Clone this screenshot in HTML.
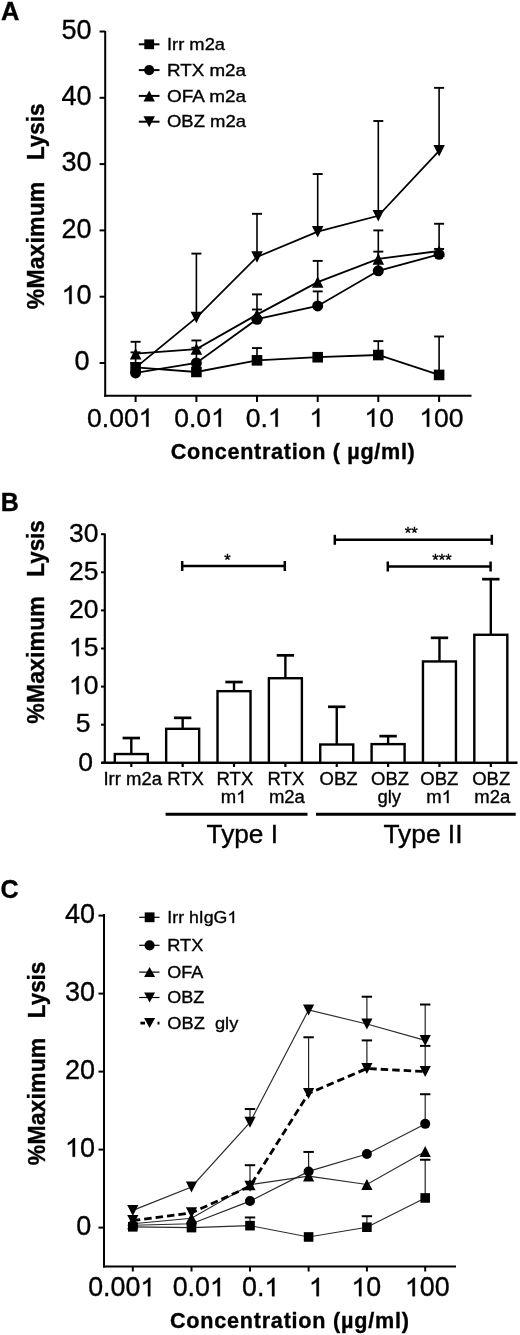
<!DOCTYPE html>
<html><head><meta charset="utf-8"><style>
html,body{margin:0;padding:0;background:#fff;}
svg{display:block;font-family:"Liberation Sans", sans-serif;filter:blur(0.4px);}
text{stroke:#000;stroke-width:0.35px;}
.h1{fill:none;stroke:none;}
</style></head><body>
<svg width="520" height="1335" viewBox="0 0 520 1335" fill="#000">
<rect width="520" height="1335" fill="#fff"/>
<text x="1.0" y="19.8" font-size="25.5" text-anchor="start" font-weight="bold" >A</text>
<line x1="105.20" y1="31.00" x2="105.20" y2="396.80" stroke="#000" stroke-width="2" />
<line x1="104.20" y1="395.80" x2="471.50" y2="395.80" stroke="#000" stroke-width="2" />
<line x1="99.60" y1="31.50" x2="105.20" y2="31.50" stroke="#000" stroke-width="2" />
<text x="91.6" y="38.85" font-size="27" text-anchor="end" font-weight="normal" >50</text>
<line x1="99.60" y1="97.80" x2="105.20" y2="97.80" stroke="#000" stroke-width="2" />
<text x="91.6" y="105.15" font-size="27" text-anchor="end" font-weight="normal" >40</text>
<line x1="99.60" y1="164.10" x2="105.20" y2="164.10" stroke="#000" stroke-width="2" />
<text x="91.6" y="171.45" font-size="27" text-anchor="end" font-weight="normal" >30</text>
<line x1="99.60" y1="230.40" x2="105.20" y2="230.40" stroke="#000" stroke-width="2" />
<text x="91.6" y="237.75" font-size="27" text-anchor="end" font-weight="normal" >20</text>
<line x1="99.60" y1="296.70" x2="105.20" y2="296.70" stroke="#000" stroke-width="2" />
<text x="91.6" y="304.05" font-size="27" text-anchor="end" font-weight="normal" ><tspan class="h1">1</tspan>0</text>
<line x1="99.60" y1="363.00" x2="105.20" y2="363.00" stroke="#000" stroke-width="2" />
<text x="89.5" y="370.35" font-size="27" text-anchor="end" font-weight="normal" >0</text>
<line x1="135.60" y1="395.80" x2="135.60" y2="402.00" stroke="#000" stroke-width="2" />
<line x1="196.40" y1="395.80" x2="196.40" y2="402.00" stroke="#000" stroke-width="2" />
<line x1="257.00" y1="395.80" x2="257.00" y2="402.00" stroke="#000" stroke-width="2" />
<line x1="317.70" y1="395.80" x2="317.70" y2="402.00" stroke="#000" stroke-width="2" />
<line x1="378.30" y1="395.80" x2="378.30" y2="402.00" stroke="#000" stroke-width="2" />
<line x1="439.10" y1="395.80" x2="439.10" y2="402.00" stroke="#000" stroke-width="2" />
<text x="87.07" y="426.7" font-size="26.5" text-anchor="start" font-weight="normal" >0.00<tspan class="h1">1</tspan></text>
<text x="174.17" y="426.7" font-size="26.5" text-anchor="start" font-weight="normal" >0.0<tspan class="h1">1</tspan></text>
<text x="245.77" y="426.7" font-size="26.5" text-anchor="start" font-weight="normal" >0.<tspan class="h1">1</tspan></text>
<text x="309.41" y="426.7" font-size="26.5" text-anchor="start" font-weight="normal" ><tspan class="h1">1</tspan></text>
<text x="364.41" y="426.7" font-size="26.5" text-anchor="start" font-weight="normal" ><tspan class="h1">1</tspan>0</text>
<text x="419.31" y="426.7" font-size="26.5" text-anchor="start" font-weight="normal" ><tspan class="h1">1</tspan>00</text>
<text x="170.8" y="458.7" font-size="21.6" text-anchor="start" font-weight="bold" textLength="244" lengthAdjust="spacing">Concentration ( µg/ml)</text>
<text transform="translate(43.5,309.2) rotate(-90)" font-size="23" font-weight="bold" textLength="127.5">%Maximum</text>
<text transform="translate(43.5,160.0) rotate(-90)" font-size="23" font-weight="bold" textLength="56.5" lengthAdjust="spacingAndGlyphs">Lysis</text>
<polyline points="135.6,367.3 196.4,372.0 257.0,360.3 317.7,357.2 378.3,355.0 439.1,374.9" fill="none" stroke="#000" stroke-width="1.8"/>
<line x1="257.00" y1="360.35" x2="257.00" y2="348.08" stroke="#000" stroke-width="1.6" />
<line x1="252.00" y1="348.08" x2="262.00" y2="348.08" stroke="#000" stroke-width="1.9" />
<line x1="378.30" y1="355.04" x2="378.30" y2="341.12" stroke="#000" stroke-width="1.6" />
<line x1="373.30" y1="341.12" x2="383.30" y2="341.12" stroke="#000" stroke-width="1.9" />
<line x1="439.10" y1="374.93" x2="439.10" y2="336.48" stroke="#000" stroke-width="1.6" />
<line x1="434.10" y1="336.48" x2="444.10" y2="336.48" stroke="#000" stroke-width="1.9" />
<polyline points="135.6,372.9 196.4,363.0 257.0,319.2 317.7,306.0 378.3,270.8 439.1,254.3" fill="none" stroke="#000" stroke-width="1.8"/>
<line x1="196.40" y1="363.00" x2="196.40" y2="347.75" stroke="#000" stroke-width="1.6" />
<line x1="191.40" y1="347.75" x2="201.40" y2="347.75" stroke="#000" stroke-width="1.9" />
<line x1="257.00" y1="319.24" x2="257.00" y2="309.50" stroke="#000" stroke-width="1.6" />
<line x1="252.00" y1="309.50" x2="262.00" y2="309.50" stroke="#000" stroke-width="1.9" />
<line x1="317.70" y1="305.98" x2="317.70" y2="291.40" stroke="#000" stroke-width="1.6" />
<line x1="312.70" y1="291.40" x2="322.70" y2="291.40" stroke="#000" stroke-width="1.9" />
<line x1="378.30" y1="270.84" x2="378.30" y2="251.62" stroke="#000" stroke-width="1.6" />
<line x1="373.30" y1="251.62" x2="383.30" y2="251.62" stroke="#000" stroke-width="1.9" />
<line x1="439.10" y1="254.27" x2="439.10" y2="248.96" stroke="#000" stroke-width="1.6" />
<line x1="434.10" y1="248.96" x2="444.10" y2="248.96" stroke="#000" stroke-width="1.9" />
<polyline points="135.6,353.7 196.4,349.1 257.0,314.6 317.7,282.1 378.3,258.9 439.1,251.0" fill="none" stroke="#000" stroke-width="1.8"/>
<line x1="135.60" y1="353.72" x2="135.60" y2="341.78" stroke="#000" stroke-width="1.6" />
<line x1="130.60" y1="341.78" x2="140.60" y2="341.78" stroke="#000" stroke-width="1.9" />
<line x1="196.40" y1="349.08" x2="196.40" y2="340.46" stroke="#000" stroke-width="1.6" />
<line x1="191.40" y1="340.46" x2="201.40" y2="340.46" stroke="#000" stroke-width="1.9" />
<line x1="257.00" y1="314.60" x2="257.00" y2="294.38" stroke="#000" stroke-width="1.6" />
<line x1="252.00" y1="294.38" x2="262.00" y2="294.38" stroke="#000" stroke-width="1.9" />
<line x1="317.70" y1="282.11" x2="317.70" y2="260.90" stroke="#000" stroke-width="1.6" />
<line x1="312.70" y1="260.90" x2="322.70" y2="260.90" stroke="#000" stroke-width="1.9" />
<line x1="378.30" y1="258.91" x2="378.30" y2="230.40" stroke="#000" stroke-width="1.6" />
<line x1="373.30" y1="230.40" x2="383.30" y2="230.40" stroke="#000" stroke-width="1.9" />
<line x1="439.10" y1="250.95" x2="439.10" y2="223.77" stroke="#000" stroke-width="1.6" />
<line x1="434.10" y1="223.77" x2="444.10" y2="223.77" stroke="#000" stroke-width="1.9" />
<polyline points="135.6,367.6 196.4,317.6 257.0,256.9 317.7,231.7 378.3,215.8 439.1,150.8" fill="none" stroke="#000" stroke-width="1.8"/>
<line x1="135.60" y1="367.64" x2="135.60" y2="352.39" stroke="#000" stroke-width="1.6" />
<line x1="130.60" y1="352.39" x2="140.60" y2="352.39" stroke="#000" stroke-width="1.9" />
<line x1="196.40" y1="317.58" x2="196.40" y2="253.61" stroke="#000" stroke-width="1.6" />
<line x1="191.40" y1="253.61" x2="201.40" y2="253.61" stroke="#000" stroke-width="1.9" />
<line x1="257.00" y1="256.92" x2="257.00" y2="213.82" stroke="#000" stroke-width="1.6" />
<line x1="252.00" y1="213.82" x2="262.00" y2="213.82" stroke="#000" stroke-width="1.9" />
<line x1="317.70" y1="231.73" x2="317.70" y2="174.05" stroke="#000" stroke-width="1.6" />
<line x1="312.70" y1="174.05" x2="322.70" y2="174.05" stroke="#000" stroke-width="1.9" />
<line x1="378.30" y1="215.81" x2="378.30" y2="121.00" stroke="#000" stroke-width="1.6" />
<line x1="373.30" y1="121.00" x2="383.30" y2="121.00" stroke="#000" stroke-width="1.9" />
<line x1="439.10" y1="150.84" x2="439.10" y2="87.86" stroke="#000" stroke-width="1.6" />
<line x1="434.10" y1="87.86" x2="444.10" y2="87.86" stroke="#000" stroke-width="1.9" />
<rect x="130.30" y="362.01" width="10.6" height="10.6" fill="#000"/>
<rect x="191.10" y="366.65" width="10.6" height="10.6" fill="#000"/>
<rect x="251.70" y="355.05" width="10.6" height="10.6" fill="#000"/>
<rect x="312.40" y="351.93" width="10.6" height="10.6" fill="#000"/>
<rect x="373.00" y="349.74" width="10.6" height="10.6" fill="#000"/>
<rect x="433.80" y="369.63" width="10.6" height="10.6" fill="#000"/>
<circle cx="135.60" cy="372.94" r="5.50" fill="#000"/>
<circle cx="196.40" cy="363.00" r="5.50" fill="#000"/>
<circle cx="257.00" cy="319.24" r="5.50" fill="#000"/>
<circle cx="317.70" cy="305.98" r="5.50" fill="#000"/>
<circle cx="378.30" cy="270.84" r="5.50" fill="#000"/>
<circle cx="439.10" cy="254.27" r="5.50" fill="#000"/>
<path d="M129.85 359.47 L141.35 359.47 L135.60 347.97Z" fill="#000"/>
<path d="M190.65 354.83 L202.15 354.83 L196.40 343.33Z" fill="#000"/>
<path d="M251.25 320.35 L262.75 320.35 L257.00 308.85Z" fill="#000"/>
<path d="M311.95 287.86 L323.45 287.86 L317.70 276.36Z" fill="#000"/>
<path d="M372.55 264.66 L384.05 264.66 L378.30 253.16Z" fill="#000"/>
<path d="M433.35 256.70 L444.85 256.70 L439.10 245.20Z" fill="#000"/>
<path d="M129.85 361.89 L141.35 361.89 L135.60 373.39Z" fill="#000"/>
<path d="M190.65 311.83 L202.15 311.83 L196.40 323.33Z" fill="#000"/>
<path d="M251.25 251.17 L262.75 251.17 L257.00 262.67Z" fill="#000"/>
<path d="M311.95 225.98 L323.45 225.98 L317.70 237.48Z" fill="#000"/>
<path d="M372.55 210.06 L384.05 210.06 L378.30 221.56Z" fill="#000"/>
<path d="M433.35 145.09 L444.85 145.09 L439.10 156.59Z" fill="#000"/>
<line x1="138.80" y1="44.30" x2="159.50" y2="44.30" stroke="#000" stroke-width="2" />
<rect x="144.30" y="39.40" width="9.8" height="9.8" fill="#000"/>
<text x="167" y="49.9" font-size="17" text-anchor="start" font-weight="normal" textLength="58" lengthAdjust="spacingAndGlyphs">Irr m2a</text>
<line x1="138.80" y1="70.10" x2="159.50" y2="70.10" stroke="#000" stroke-width="2" />
<circle cx="149.20" cy="70.10" r="5.10" fill="#000"/>
<text x="167" y="75.7" font-size="17" text-anchor="start" font-weight="normal" textLength="79" lengthAdjust="spacingAndGlyphs">RTX m2a</text>
<line x1="138.80" y1="95.90" x2="159.50" y2="95.90" stroke="#000" stroke-width="2" />
<path d="M143.50 101.40 L154.90 101.40 L149.20 90.40Z" fill="#000"/>
<text x="167" y="101.5" font-size="17" text-anchor="start" font-weight="normal" textLength="79" lengthAdjust="spacingAndGlyphs">OFA m2a</text>
<line x1="138.80" y1="121.70" x2="159.50" y2="121.70" stroke="#000" stroke-width="2" />
<path d="M143.50 116.20 L154.90 116.20 L149.20 127.20Z" fill="#000"/>
<text x="167" y="127.30000000000001" font-size="17" text-anchor="start" font-weight="normal" textLength="79" lengthAdjust="spacingAndGlyphs">OBZ m2a</text>
<text x="0.8" y="510.8" font-size="25" text-anchor="start" font-weight="bold" >B</text>
<line x1="104.80" y1="533.50" x2="104.80" y2="763.50" stroke="#000" stroke-width="2.2" />
<line x1="101.50" y1="762.80" x2="517.50" y2="762.80" stroke="#000" stroke-width="2.4" />
<line x1="101.00" y1="534.20" x2="104.80" y2="534.20" stroke="#000" stroke-width="2" />
<text x="98.4" y="541.9" font-size="26.5" text-anchor="end" font-weight="normal" >30</text>
<line x1="101.00" y1="572.30" x2="104.80" y2="572.30" stroke="#000" stroke-width="2" />
<text x="98.4" y="580.0" font-size="26.5" text-anchor="end" font-weight="normal" >25</text>
<line x1="101.00" y1="610.40" x2="104.80" y2="610.40" stroke="#000" stroke-width="2" />
<text x="98.4" y="618.1" font-size="26.5" text-anchor="end" font-weight="normal" >20</text>
<line x1="101.00" y1="648.50" x2="104.80" y2="648.50" stroke="#000" stroke-width="2" />
<text x="98.4" y="656.2" font-size="26.5" text-anchor="end" font-weight="normal" ><tspan class="h1">1</tspan>5</text>
<line x1="101.00" y1="686.60" x2="104.80" y2="686.60" stroke="#000" stroke-width="2" />
<text x="98.4" y="694.3" font-size="26.5" text-anchor="end" font-weight="normal" ><tspan class="h1">1</tspan>0</text>
<line x1="101.00" y1="724.70" x2="104.80" y2="724.70" stroke="#000" stroke-width="2" />
<text x="90.5" y="732.4" font-size="26.5" text-anchor="end" font-weight="normal" >5</text>
<line x1="101.00" y1="762.80" x2="104.80" y2="762.80" stroke="#000" stroke-width="2" />
<text x="93.0" y="770.5" font-size="26.5" text-anchor="end" font-weight="normal" >0</text>
<line x1="131.30" y1="754.04" x2="131.30" y2="738.03" stroke="#000" stroke-width="2.4" />
<line x1="122.60" y1="738.03" x2="140.00" y2="738.03" stroke="#000" stroke-width="2.7" />
<rect x="114.80" y="754.04" width="33" height="8.76" fill="#fff" stroke="#000" stroke-width="2.4"/>
<line x1="131.30" y1="762.80" x2="131.30" y2="767.00" stroke="#000" stroke-width="2.2" />
<line x1="182.66" y1="728.81" x2="182.66" y2="717.84" stroke="#000" stroke-width="2.4" />
<line x1="173.96" y1="717.84" x2="191.36" y2="717.84" stroke="#000" stroke-width="2.7" />
<rect x="166.16" y="728.81" width="33" height="33.99" fill="#fff" stroke="#000" stroke-width="2.4"/>
<line x1="182.66" y1="762.80" x2="182.66" y2="767.00" stroke="#000" stroke-width="2.2" />
<line x1="234.02" y1="691.17" x2="234.02" y2="682.03" stroke="#000" stroke-width="2.4" />
<line x1="225.32" y1="682.03" x2="242.72" y2="682.03" stroke="#000" stroke-width="2.7" />
<rect x="217.52" y="691.17" width="33" height="71.63" fill="#fff" stroke="#000" stroke-width="2.4"/>
<line x1="234.02" y1="762.80" x2="234.02" y2="767.00" stroke="#000" stroke-width="2.2" />
<line x1="285.38" y1="678.22" x2="285.38" y2="655.36" stroke="#000" stroke-width="2.4" />
<line x1="276.68" y1="655.36" x2="294.08" y2="655.36" stroke="#000" stroke-width="2.7" />
<rect x="268.88" y="678.22" width="33" height="84.58" fill="#fff" stroke="#000" stroke-width="2.4"/>
<line x1="285.38" y1="762.80" x2="285.38" y2="767.00" stroke="#000" stroke-width="2.2" />
<line x1="336.74" y1="744.51" x2="336.74" y2="706.79" stroke="#000" stroke-width="2.4" />
<line x1="328.04" y1="706.79" x2="345.44" y2="706.79" stroke="#000" stroke-width="2.7" />
<rect x="320.24" y="744.51" width="33" height="18.29" fill="#fff" stroke="#000" stroke-width="2.4"/>
<line x1="336.74" y1="762.80" x2="336.74" y2="767.00" stroke="#000" stroke-width="2.2" />
<line x1="388.10" y1="744.13" x2="388.10" y2="736.13" stroke="#000" stroke-width="2.4" />
<line x1="379.40" y1="736.13" x2="396.80" y2="736.13" stroke="#000" stroke-width="2.7" />
<rect x="371.60" y="744.13" width="33" height="18.67" fill="#fff" stroke="#000" stroke-width="2.4"/>
<line x1="388.10" y1="762.80" x2="388.10" y2="767.00" stroke="#000" stroke-width="2.2" />
<line x1="439.46" y1="661.45" x2="439.46" y2="637.83" stroke="#000" stroke-width="2.4" />
<line x1="430.76" y1="637.83" x2="448.16" y2="637.83" stroke="#000" stroke-width="2.7" />
<rect x="422.96" y="661.45" width="33" height="101.35" fill="#fff" stroke="#000" stroke-width="2.4"/>
<line x1="439.46" y1="762.80" x2="439.46" y2="767.00" stroke="#000" stroke-width="2.2" />
<line x1="490.82" y1="634.78" x2="490.82" y2="579.16" stroke="#000" stroke-width="2.4" />
<line x1="482.12" y1="579.16" x2="499.52" y2="579.16" stroke="#000" stroke-width="2.7" />
<rect x="474.32" y="634.78" width="33" height="128.02" fill="#fff" stroke="#000" stroke-width="2.4"/>
<line x1="490.82" y1="762.80" x2="490.82" y2="767.00" stroke="#000" stroke-width="2.2" />
<text x="132.75" y="785.3" font-size="18.5" text-anchor="middle" font-weight="normal" >Irr m2a</text>
<text x="185.5" y="785.3" font-size="18.5" text-anchor="middle" font-weight="normal" >RTX</text>
<text x="234.9" y="785.3" font-size="18.5" text-anchor="middle" font-weight="normal" >RTX</text>
<text x="233.6" y="803.0" font-size="18.5" text-anchor="middle" font-weight="normal" >m<tspan class="h1">1</tspan></text>
<text x="285.9" y="785.3" font-size="18.5" text-anchor="middle" font-weight="normal" >RTX</text>
<text x="286.9" y="803.0" font-size="18.5" text-anchor="middle" font-weight="normal" >m2a</text>
<text x="338.6" y="785.3" font-size="18.5" text-anchor="middle" font-weight="normal" >OBZ</text>
<text x="390.1" y="785.3" font-size="18.5" text-anchor="middle" font-weight="normal" >OBZ</text>
<text x="389.3" y="803.0" font-size="18.5" text-anchor="middle" font-weight="normal" >gly</text>
<text x="439.3" y="785.3" font-size="18.5" text-anchor="middle" font-weight="normal" >OBZ</text>
<text x="439.1" y="803.0" font-size="18.5" text-anchor="middle" font-weight="normal" >m<tspan class="h1">1</tspan></text>
<text x="491.2" y="785.3" font-size="18.5" text-anchor="middle" font-weight="normal" >OBZ</text>
<text x="492.3" y="803.0" font-size="18.5" text-anchor="middle" font-weight="normal" >m2a</text>
<line x1="165.60" y1="814.30" x2="307.50" y2="814.30" stroke="#000" stroke-width="3" />
<line x1="316.00" y1="814.30" x2="515.70" y2="814.30" stroke="#000" stroke-width="3" />
<text x="242.3" y="843" font-size="25.5" text-anchor="middle" font-weight="normal" textLength="71.5" lengthAdjust="spacingAndGlyphs">Type I</text>
<text x="423.0" y="843" font-size="25.5" text-anchor="middle" font-weight="normal" textLength="79" lengthAdjust="spacingAndGlyphs">Type II</text>
<line x1="182.20" y1="566.00" x2="284.80" y2="566.00" stroke="#000" stroke-width="2.5" />
<line x1="182.20" y1="561.00" x2="182.20" y2="571.00" stroke="#000" stroke-width="2.5" />
<line x1="284.80" y1="561.00" x2="284.80" y2="571.00" stroke="#000" stroke-width="2.5" />
<text x="227.5" y="566.0" font-size="16.5" text-anchor="middle" font-weight="normal" stroke-width="0.6">*</text>
<line x1="334.80" y1="539.80" x2="491.80" y2="539.80" stroke="#000" stroke-width="2.5" />
<line x1="334.80" y1="534.80" x2="334.80" y2="544.80" stroke="#000" stroke-width="2.5" />
<line x1="491.80" y1="534.80" x2="491.80" y2="544.80" stroke="#000" stroke-width="2.5" />
<text x="411.2" y="538.6" font-size="16.5" text-anchor="middle" font-weight="normal" stroke-width="0.6">**</text>
<line x1="387.80" y1="566.50" x2="490.60" y2="566.50" stroke="#000" stroke-width="2.5" />
<line x1="387.80" y1="561.50" x2="387.80" y2="571.50" stroke="#000" stroke-width="2.5" />
<line x1="490.60" y1="561.50" x2="490.60" y2="571.50" stroke="#000" stroke-width="2.5" />
<text x="442" y="565.5" font-size="16.5" text-anchor="middle" font-weight="normal" stroke-width="0.6">***</text>
<text transform="translate(44.2,723.7) rotate(-90)" font-size="23" font-weight="bold" textLength="127.5">%Maximum</text>
<text transform="translate(44.2,576.7) rotate(-90)" font-size="23" font-weight="bold" textLength="56.5" lengthAdjust="spacingAndGlyphs">Lysis</text>
<text x="0.5" y="898.0" font-size="25" text-anchor="start" font-weight="bold" >C</text>
<line x1="104.00" y1="914.00" x2="104.00" y2="1267.50" stroke="#000" stroke-width="2" />
<line x1="103.00" y1="1266.50" x2="456.00" y2="1266.50" stroke="#000" stroke-width="2" />
<line x1="98.50" y1="915.60" x2="104.00" y2="915.60" stroke="#000" stroke-width="2" />
<text x="95.0" y="922.6499999999999" font-size="27" text-anchor="end" font-weight="normal" >40</text>
<line x1="98.50" y1="993.60" x2="104.00" y2="993.60" stroke="#000" stroke-width="2" />
<text x="95.0" y="1000.6499999999999" font-size="27" text-anchor="end" font-weight="normal" >30</text>
<line x1="98.50" y1="1071.60" x2="104.00" y2="1071.60" stroke="#000" stroke-width="2" />
<text x="95.0" y="1078.6499999999999" font-size="27" text-anchor="end" font-weight="normal" >20</text>
<line x1="98.50" y1="1149.60" x2="104.00" y2="1149.60" stroke="#000" stroke-width="2" />
<text x="95.0" y="1156.6499999999999" font-size="27" text-anchor="end" font-weight="normal" ><tspan class="h1">1</tspan>0</text>
<line x1="98.50" y1="1227.60" x2="104.00" y2="1227.60" stroke="#000" stroke-width="2" />
<text x="91.2" y="1234.6499999999999" font-size="27" text-anchor="end" font-weight="normal" >0</text>
<line x1="132.80" y1="1266.50" x2="132.80" y2="1271.50" stroke="#000" stroke-width="2" />
<line x1="191.50" y1="1266.50" x2="191.50" y2="1271.50" stroke="#000" stroke-width="2" />
<line x1="250.00" y1="1266.50" x2="250.00" y2="1271.50" stroke="#000" stroke-width="2" />
<line x1="308.60" y1="1266.50" x2="308.60" y2="1271.50" stroke="#000" stroke-width="2" />
<line x1="366.90" y1="1266.50" x2="366.90" y2="1271.50" stroke="#000" stroke-width="2" />
<line x1="425.20" y1="1266.50" x2="425.20" y2="1271.50" stroke="#000" stroke-width="2" />
<text x="88.15" y="1296.2" font-size="26.8" text-anchor="start" font-weight="normal" >0.00<tspan class="h1">1</tspan></text>
<text x="172.65" y="1296.2" font-size="26.8" text-anchor="start" font-weight="normal" >0.0<tspan class="h1">1</tspan></text>
<text x="242.05" y="1296.2" font-size="26.8" text-anchor="start" font-weight="normal" >0.<tspan class="h1">1</tspan></text>
<text x="308.88" y="1296.2" font-size="26.8" text-anchor="start" font-weight="normal" ><tspan class="h1">1</tspan></text>
<text x="351.38" y="1296.2" font-size="26.8" text-anchor="start" font-weight="normal" ><tspan class="h1">1</tspan>0</text>
<text x="404.88" y="1296.2" font-size="26.8" text-anchor="start" font-weight="normal" ><tspan class="h1">1</tspan>00</text>
<text x="169.9" y="1327.6" font-size="21.6" text-anchor="start" font-weight="bold" textLength="239" lengthAdjust="spacing">Concentration (µg/ml)</text>
<text transform="translate(44.8,1165.2) rotate(-90)" font-size="23" font-weight="bold" textLength="127.5">%Maximum</text>
<text transform="translate(44.8,1018.2) rotate(-90)" font-size="23" font-weight="bold" textLength="56.5" lengthAdjust="spacingAndGlyphs">Lysis</text>
<polyline points="132.8,1226.8 191.5,1227.6 250.0,1225.6 308.6,1237.0 366.9,1227.2 425.2,1198.0" fill="none" stroke="#2a2a2a" stroke-width="1.15"/>
<line x1="250.00" y1="1225.65" x2="250.00" y2="1217.46" stroke="#222" stroke-width="1.2" />
<line x1="244.80" y1="1217.46" x2="255.20" y2="1217.46" stroke="#000" stroke-width="2.0" />
<line x1="366.90" y1="1227.21" x2="366.90" y2="1216.21" stroke="#222" stroke-width="1.2" />
<line x1="361.70" y1="1216.21" x2="372.10" y2="1216.21" stroke="#000" stroke-width="2.0" />
<line x1="425.20" y1="1197.96" x2="425.20" y2="1159.74" stroke="#222" stroke-width="1.2" />
<line x1="420.00" y1="1159.74" x2="430.40" y2="1159.74" stroke="#000" stroke-width="2.0" />
<polyline points="132.8,1225.3 191.5,1223.7 250.0,1201.1 308.6,1171.4 366.9,1154.0 425.2,1123.9" fill="none" stroke="#2a2a2a" stroke-width="1.15"/>
<line x1="308.60" y1="1171.44" x2="308.60" y2="1151.94" stroke="#222" stroke-width="1.2" />
<line x1="303.40" y1="1151.94" x2="313.80" y2="1151.94" stroke="#000" stroke-width="2.0" />
<line x1="425.20" y1="1123.86" x2="425.20" y2="1094.22" stroke="#222" stroke-width="1.2" />
<line x1="420.00" y1="1094.22" x2="430.40" y2="1094.22" stroke="#000" stroke-width="2.0" />
<polyline points="132.8,1223.7 191.5,1218.2 250.0,1184.7 308.6,1176.1 366.9,1184.5 425.2,1151.5" fill="none" stroke="#2a2a2a" stroke-width="1.15"/>
<polyline points="132.8,1210.4 191.5,1187.0 250.0,1122.3 308.6,1010.0 366.9,1024.0 425.2,1040.4" fill="none" stroke="#2a2a2a" stroke-width="1.15"/>
<line x1="250.00" y1="1122.30" x2="250.00" y2="1109.04" stroke="#222" stroke-width="1.2" />
<line x1="244.80" y1="1109.04" x2="255.20" y2="1109.04" stroke="#000" stroke-width="2.0" />
<line x1="366.90" y1="1024.02" x2="366.90" y2="996.72" stroke="#222" stroke-width="1.2" />
<line x1="361.70" y1="996.72" x2="372.10" y2="996.72" stroke="#000" stroke-width="2.0" />
<line x1="425.20" y1="1040.40" x2="425.20" y2="1004.52" stroke="#222" stroke-width="1.2" />
<line x1="420.00" y1="1004.52" x2="430.40" y2="1004.52" stroke="#000" stroke-width="2.0" />
<polyline points="132.8,1220.6 191.5,1212.8 250.0,1186.3 308.6,1093.4 366.9,1068.5 425.2,1071.6" fill="none" stroke="#000" stroke-width="2.8" stroke-dasharray="7.5,4"/>
<line x1="250.00" y1="1186.26" x2="250.00" y2="1165.20" stroke="#222" stroke-width="1.2" />
<line x1="244.80" y1="1165.20" x2="255.20" y2="1165.20" stroke="#000" stroke-width="2.0" />
<line x1="308.60" y1="1093.44" x2="308.60" y2="1037.28" stroke="#222" stroke-width="1.2" />
<line x1="303.40" y1="1037.28" x2="313.80" y2="1037.28" stroke="#000" stroke-width="2.0" />
<line x1="366.90" y1="1068.48" x2="366.90" y2="1040.40" stroke="#222" stroke-width="1.2" />
<line x1="361.70" y1="1040.40" x2="372.10" y2="1040.40" stroke="#000" stroke-width="2.0" />
<line x1="425.20" y1="1071.60" x2="425.20" y2="1045.86" stroke="#222" stroke-width="1.2" />
<line x1="420.00" y1="1045.86" x2="430.40" y2="1045.86" stroke="#000" stroke-width="2.0" />
<rect x="128.00" y="1222.02" width="9.6" height="9.6" fill="#000"/>
<rect x="186.70" y="1222.80" width="9.6" height="9.6" fill="#000"/>
<rect x="245.20" y="1220.85" width="9.6" height="9.6" fill="#000"/>
<rect x="303.80" y="1232.16" width="9.6" height="9.6" fill="#000"/>
<rect x="362.10" y="1222.41" width="9.6" height="9.6" fill="#000"/>
<rect x="420.40" y="1193.16" width="9.6" height="9.6" fill="#000"/>
<circle cx="132.80" cy="1225.26" r="5.00" fill="#000"/>
<circle cx="191.50" cy="1223.70" r="5.00" fill="#000"/>
<circle cx="250.00" cy="1201.08" r="5.00" fill="#000"/>
<circle cx="308.60" cy="1171.44" r="5.00" fill="#000"/>
<circle cx="366.90" cy="1153.97" r="5.00" fill="#000"/>
<circle cx="425.20" cy="1123.86" r="5.00" fill="#000"/>
<path d="M127.20 1229.20 L138.40 1229.20 L132.80 1218.20Z" fill="#000"/>
<path d="M185.90 1223.74 L197.10 1223.74 L191.50 1212.74Z" fill="#000"/>
<path d="M244.40 1190.20 L255.60 1190.20 L250.00 1179.20Z" fill="#000"/>
<path d="M303.00 1181.62 L314.20 1181.62 L308.60 1170.62Z" fill="#000"/>
<path d="M361.30 1190.04 L372.50 1190.04 L366.90 1179.04Z" fill="#000"/>
<path d="M419.60 1157.05 L430.80 1157.05 L425.20 1146.05Z" fill="#000"/>
<path d="M127.20 1204.94 L138.40 1204.94 L132.80 1215.94Z" fill="#000"/>
<path d="M185.90 1181.54 L197.10 1181.54 L191.50 1192.54Z" fill="#000"/>
<path d="M244.40 1116.80 L255.60 1116.80 L250.00 1127.80Z" fill="#000"/>
<path d="M303.00 1004.48 L314.20 1004.48 L308.60 1015.48Z" fill="#000"/>
<path d="M361.30 1018.52 L372.50 1018.52 L366.90 1029.52Z" fill="#000"/>
<path d="M419.60 1034.90 L430.80 1034.90 L425.20 1045.90Z" fill="#000"/>
<path d="M127.20 1215.08 L138.40 1215.08 L132.80 1226.08Z" fill="#000"/>
<path d="M185.90 1207.28 L197.10 1207.28 L191.50 1218.28Z" fill="#000"/>
<path d="M244.40 1180.76 L255.60 1180.76 L250.00 1191.76Z" fill="#000"/>
<path d="M303.00 1087.94 L314.20 1087.94 L308.60 1098.94Z" fill="#000"/>
<path d="M361.30 1062.98 L372.50 1062.98 L366.90 1073.98Z" fill="#000"/>
<path d="M419.60 1066.10 L430.80 1066.10 L425.20 1077.10Z" fill="#000"/>
<line x1="139.20" y1="917.30" x2="159.50" y2="917.30" stroke="#000" stroke-width="1.2" />
<rect x="144.70" y="912.40" width="9.8" height="9.8" fill="#000"/>
<text x="167.3" y="923" font-size="17.2" xml:space="preserve" textLength="70" lengthAdjust="spacingAndGlyphs">Irr hIgG<tspan class="h1">1</tspan></text>
<line x1="139.20" y1="945.30" x2="159.50" y2="945.30" stroke="#000" stroke-width="1.2" />
<circle cx="149.60" cy="945.30" r="5.10" fill="#000"/>
<text x="167.3" y="951" font-size="17.2" xml:space="preserve" textLength="36" lengthAdjust="spacingAndGlyphs">RTX</text>
<line x1="139.20" y1="972.10" x2="159.50" y2="972.10" stroke="#000" stroke-width="1.2" />
<path d="M144.10 977.10 L155.10 977.10 L149.60 967.10Z" fill="#000"/>
<text x="167.3" y="977.8" font-size="17.2" xml:space="preserve" textLength="36" lengthAdjust="spacingAndGlyphs">OFA</text>
<line x1="139.20" y1="997.50" x2="159.50" y2="997.50" stroke="#000" stroke-width="1.2" />
<path d="M144.10 992.50 L155.10 992.50 L149.60 1002.50Z" fill="#000"/>
<text x="167.3" y="1003.2" font-size="17.2" xml:space="preserve" textLength="37" lengthAdjust="spacingAndGlyphs">OBZ</text>
<line x1="140.40" y1="1023.10" x2="145.00" y2="1023.10" stroke="#000" stroke-width="2.8" />
<line x1="157.50" y1="1023.10" x2="159.50" y2="1023.10" stroke="#000" stroke-width="2.8" />
<path d="M144.10 1018.10 L155.10 1018.10 L149.60 1028.10Z" fill="#000"/>
<text x="167.3" y="1028.8" font-size="17.2" xml:space="preserve" textLength="71" lengthAdjust="spacingAndGlyphs">OBZ  gly</text>
<path d="M763 0L583 0L583 1098Q518 1039 412.5 979Q307 920 223 890L223 1057Q374 1125 487 1221Q600 1318 647 1409L763 1409Z" transform="translate(61.54,304.05) scale(0.01320,-0.01318)" fill="#000" stroke="#000" stroke-width="0.35" vector-effect="non-scaling-stroke"/>
<path d="M763 0L583 0L583 1098Q518 1039 412.5 979Q307 920 223 890L223 1057Q374 1125 487 1221Q600 1318 647 1409L763 1409Z" transform="translate(138.65,426.70) scale(0.01295,-0.01294)" fill="#000" stroke="#000" stroke-width="0.35" vector-effect="non-scaling-stroke"/>
<path d="M763 0L583 0L583 1098Q518 1039 412.5 979Q307 920 223 890L223 1057Q374 1125 487 1221Q600 1318 647 1409L763 1409Z" transform="translate(211.01,426.70) scale(0.01295,-0.01294)" fill="#000" stroke="#000" stroke-width="0.35" vector-effect="non-scaling-stroke"/>
<path d="M763 0L583 0L583 1098Q518 1039 412.5 979Q307 920 223 890L223 1057Q374 1125 487 1221Q600 1318 647 1409L763 1409Z" transform="translate(267.88,426.70) scale(0.01295,-0.01294)" fill="#000" stroke="#000" stroke-width="0.35" vector-effect="non-scaling-stroke"/>
<path d="M763 0L583 0L583 1098Q518 1039 412.5 979Q307 920 223 890L223 1057Q374 1125 487 1221Q600 1318 647 1409L763 1409Z" transform="translate(309.41,426.70) scale(0.01295,-0.01294)" fill="#000" stroke="#000" stroke-width="0.35" vector-effect="non-scaling-stroke"/>
<path d="M763 0L583 0L583 1098Q518 1039 412.5 979Q307 920 223 890L223 1057Q374 1125 487 1221Q600 1318 647 1409L763 1409Z" transform="translate(364.41,426.70) scale(0.01295,-0.01294)" fill="#000" stroke="#000" stroke-width="0.35" vector-effect="non-scaling-stroke"/>
<path d="M763 0L583 0L583 1098Q518 1039 412.5 979Q307 920 223 890L223 1057Q374 1125 487 1221Q600 1318 647 1409L763 1409Z" transform="translate(419.31,426.70) scale(0.01295,-0.01294)" fill="#000" stroke="#000" stroke-width="0.35" vector-effect="non-scaling-stroke"/>
<path d="M763 0L583 0L583 1098Q518 1039 412.5 979Q307 920 223 890L223 1057Q374 1125 487 1221Q600 1318 647 1409L763 1409Z" transform="translate(68.90,656.20) scale(0.01295,-0.01294)" fill="#000" stroke="#000" stroke-width="0.35" vector-effect="non-scaling-stroke"/>
<path d="M763 0L583 0L583 1098Q518 1039 412.5 979Q307 920 223 890L223 1057Q374 1125 487 1221Q600 1318 647 1409L763 1409Z" transform="translate(68.90,694.30) scale(0.01295,-0.01294)" fill="#000" stroke="#000" stroke-width="0.35" vector-effect="non-scaling-stroke"/>
<path d="M763 0L583 0L583 1098Q518 1039 412.5 979Q307 920 223 890L223 1057Q374 1125 487 1221Q600 1318 647 1409L763 1409Z" transform="translate(236.16,803.00) scale(0.00904,-0.00903)" fill="#000" stroke="#000" stroke-width="0.35" vector-effect="non-scaling-stroke"/>
<path d="M763 0L583 0L583 1098Q518 1039 412.5 979Q307 920 223 890L223 1057Q374 1125 487 1221Q600 1318 647 1409L763 1409Z" transform="translate(441.66,803.00) scale(0.00904,-0.00903)" fill="#000" stroke="#000" stroke-width="0.35" vector-effect="non-scaling-stroke"/>
<path d="M763 0L583 0L583 1098Q518 1039 412.5 979Q307 920 223 890L223 1057Q374 1125 487 1221Q600 1318 647 1409L763 1409Z" transform="translate(64.94,1156.65) scale(0.01320,-0.01318)" fill="#000" stroke="#000" stroke-width="0.35" vector-effect="non-scaling-stroke"/>
<path d="M763 0L583 0L583 1098Q518 1039 412.5 979Q307 920 223 890L223 1057Q374 1125 487 1221Q600 1318 647 1409L763 1409Z" transform="translate(140.31,1296.20) scale(0.01309,-0.01309)" fill="#000" stroke="#000" stroke-width="0.35" vector-effect="non-scaling-stroke"/>
<path d="M763 0L583 0L583 1098Q518 1039 412.5 979Q307 920 223 890L223 1057Q374 1125 487 1221Q600 1318 647 1409L763 1409Z" transform="translate(209.92,1296.20) scale(0.01309,-0.01309)" fill="#000" stroke="#000" stroke-width="0.35" vector-effect="non-scaling-stroke"/>
<path d="M763 0L583 0L583 1098Q518 1039 412.5 979Q307 920 223 890L223 1057Q374 1125 487 1221Q600 1318 647 1409L763 1409Z" transform="translate(264.41,1296.20) scale(0.01309,-0.01309)" fill="#000" stroke="#000" stroke-width="0.35" vector-effect="non-scaling-stroke"/>
<path d="M763 0L583 0L583 1098Q518 1039 412.5 979Q307 920 223 890L223 1057Q374 1125 487 1221Q600 1318 647 1409L763 1409Z" transform="translate(308.88,1296.20) scale(0.01309,-0.01309)" fill="#000" stroke="#000" stroke-width="0.35" vector-effect="non-scaling-stroke"/>
<path d="M763 0L583 0L583 1098Q518 1039 412.5 979Q307 920 223 890L223 1057Q374 1125 487 1221Q600 1318 647 1409L763 1409Z" transform="translate(351.38,1296.20) scale(0.01309,-0.01309)" fill="#000" stroke="#000" stroke-width="0.35" vector-effect="non-scaling-stroke"/>
<path d="M763 0L583 0L583 1098Q518 1039 412.5 979Q307 920 223 890L223 1057Q374 1125 487 1221Q600 1318 647 1409L763 1409Z" transform="translate(404.88,1296.20) scale(0.01309,-0.01309)" fill="#000" stroke="#000" stroke-width="0.35" vector-effect="non-scaling-stroke"/>
<path d="M763 0L583 0L583 1098Q518 1039 412.5 979Q307 920 223 890L223 1057Q374 1125 487 1221Q600 1318 647 1409L763 1409Z" transform="translate(227.43,923.00) scale(0.00866,-0.00840)" fill="#000" stroke="#000" stroke-width="0.35" vector-effect="non-scaling-stroke"/>
</svg>
</body></html>
